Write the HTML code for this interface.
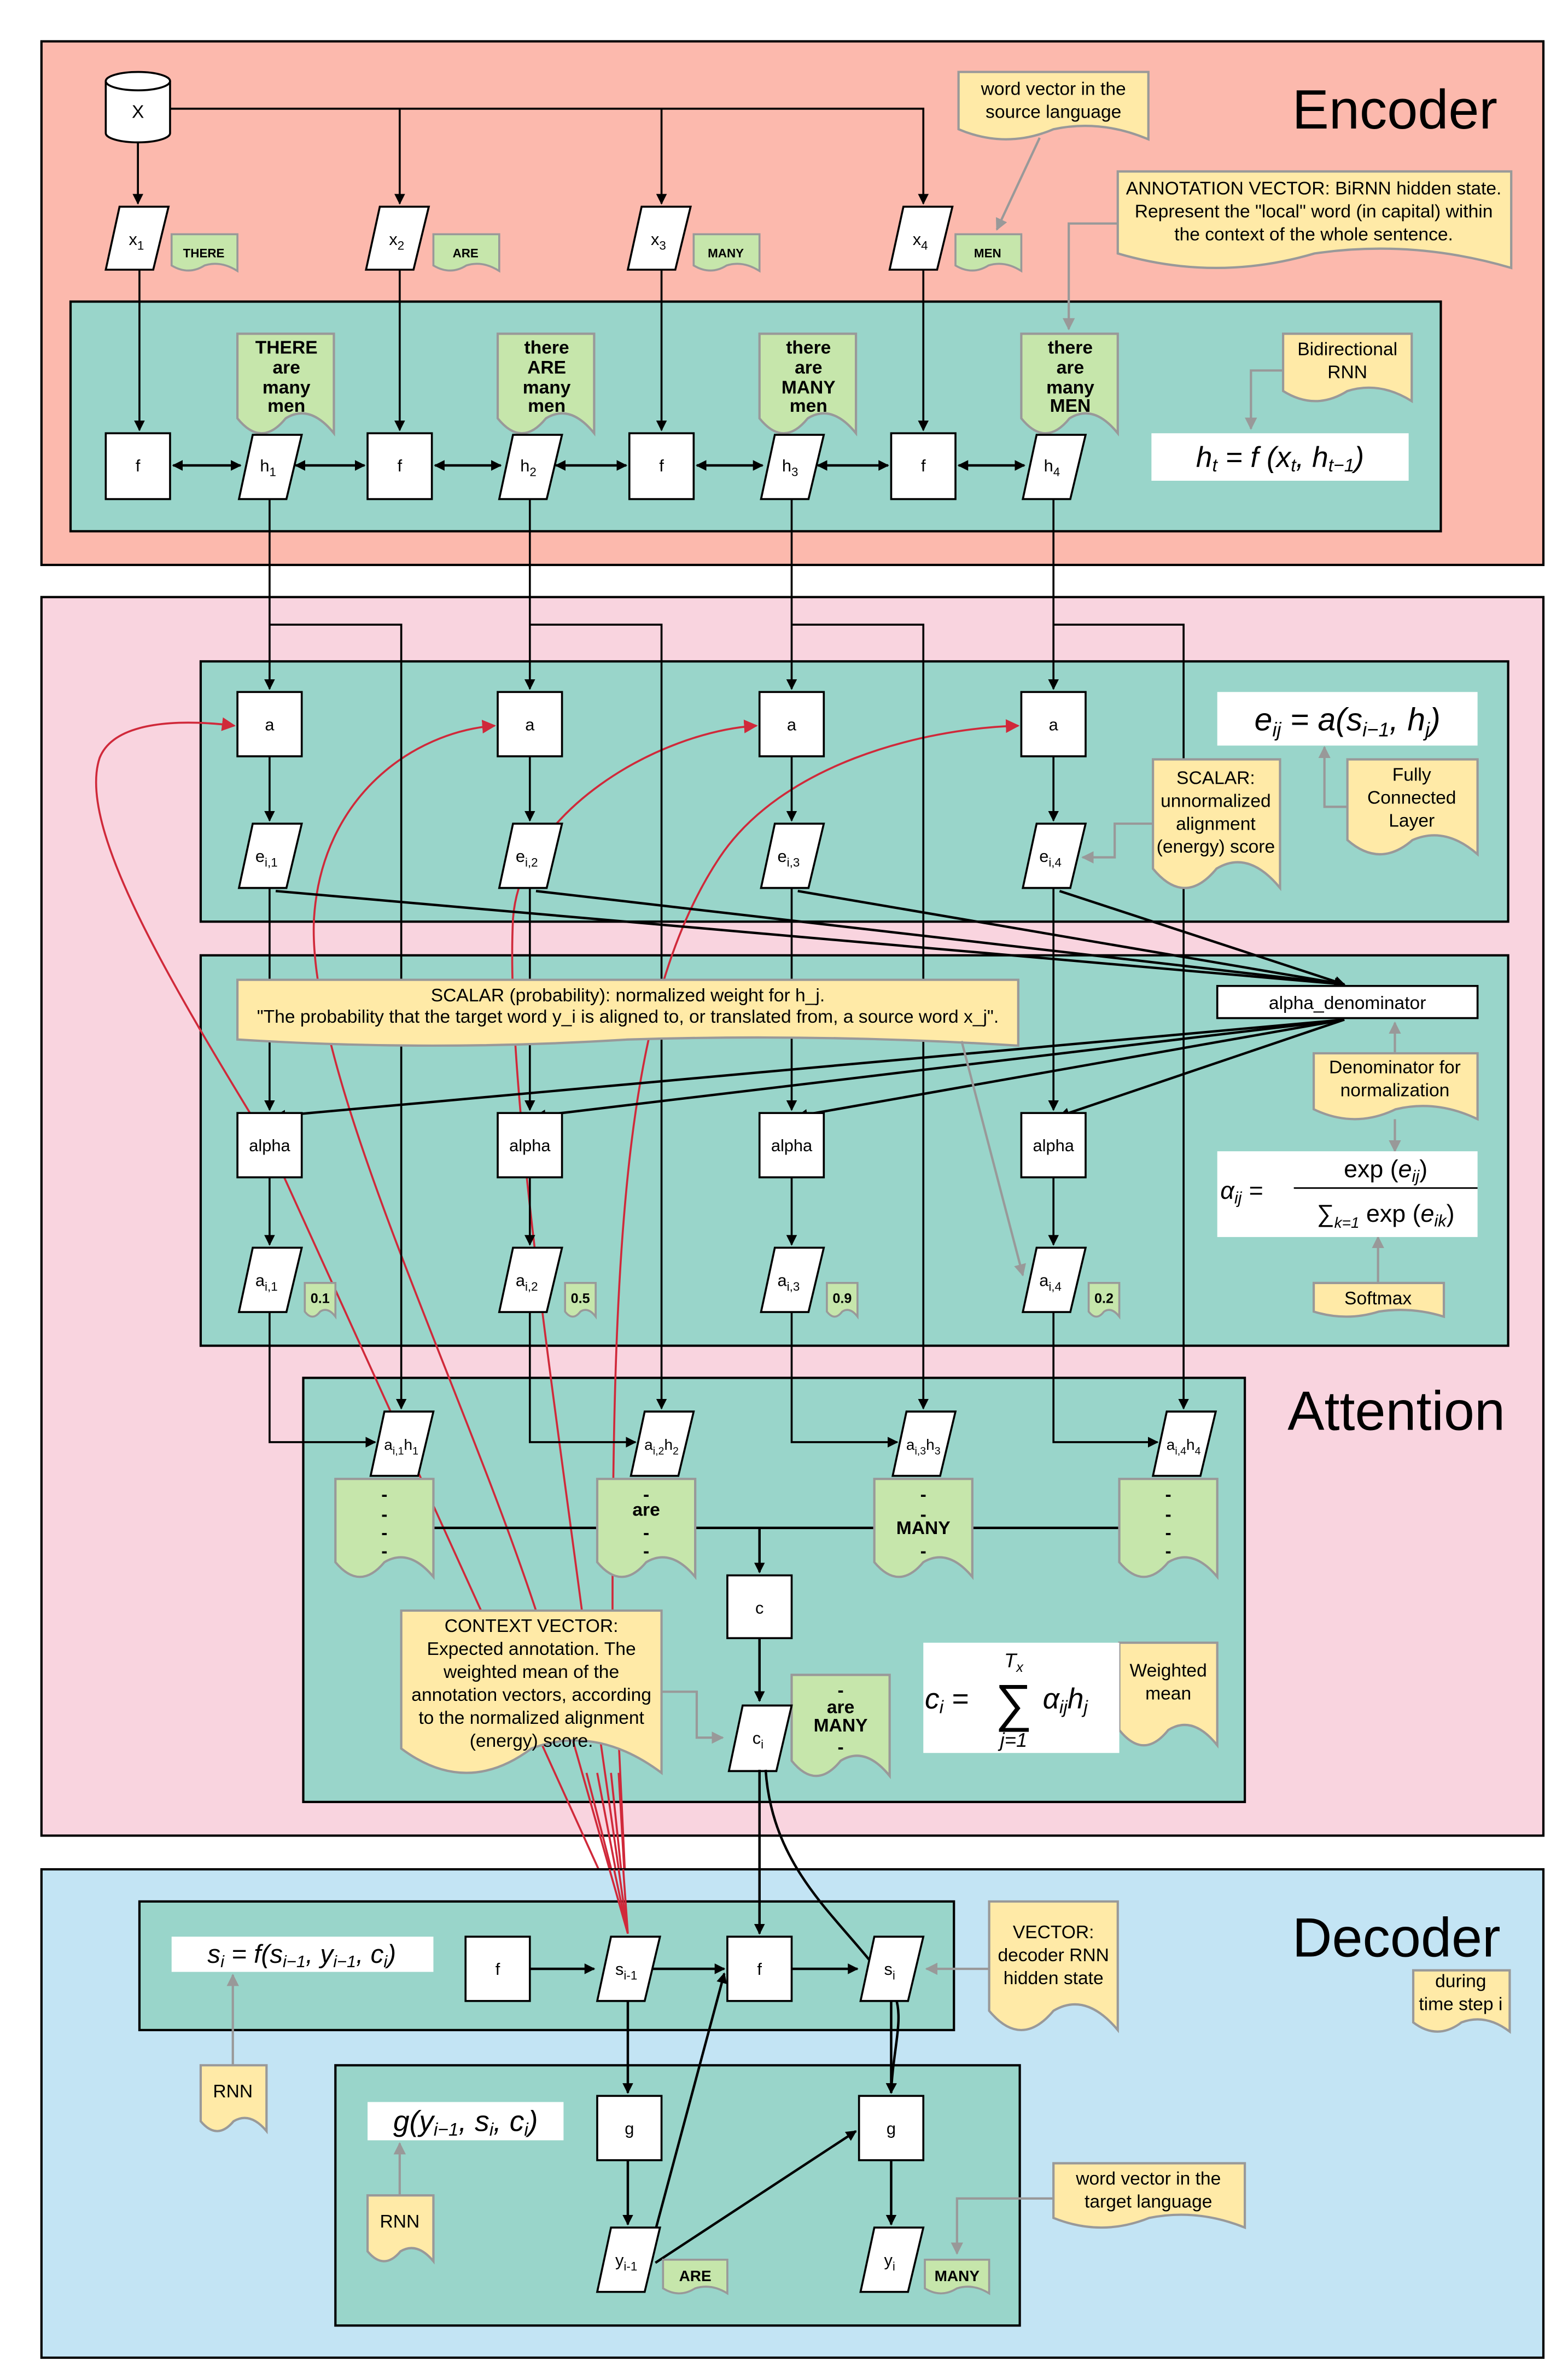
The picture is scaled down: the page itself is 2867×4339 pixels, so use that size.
<!DOCTYPE html>
<html><head><meta charset="utf-8"><style>html,body{margin:0;padding:0;background:#fff}svg{display:block}text{font-family:"Liberation Sans",sans-serif}</style></head><body>
<svg width="2867" height="4339" viewBox="0 0 1024 1550" xmlns="http://www.w3.org/2000/svg">
<defs>
<marker id="ab" viewBox="0 0 10 10" refX="9" refY="5" markerWidth="7" markerHeight="7" orient="auto-start-reverse" markerUnits="userSpaceOnUse"><path d="M0 0L10 5L0 10Z" fill="#000"/></marker>
<marker id="ag" viewBox="0 0 10 10" refX="9" refY="5" markerWidth="8" markerHeight="8" orient="auto" markerUnits="userSpaceOnUse"><path d="M0 0L10 5L0 10Z" fill="#999"/></marker>
<marker id="ar" viewBox="0 0 10 10" refX="9" refY="5" markerWidth="9" markerHeight="9" orient="auto" markerUnits="userSpaceOnUse"><path d="M0 0L10 5L0 10Z" fill="#d0293a"/></marker>
<path id="par" d="M-13 0H19L9 42H-22Z" fill="#fff" stroke="#000" stroke-width="1.3"/>
</defs>
<g stroke-width="1.3">
<!-- ENCODER -->
<rect x="27" y="27" width="981" height="342" fill="#fcb9ad" stroke="#000" stroke-width="1.5"/>
<text x="978" y="84" font-size="36" text-anchor="end">Encoder</text>
<rect x="46" y="197" width="895" height="150" fill="#99d5ca" stroke="#000" stroke-width="1.5"/>
<path d="M69 53V87A21 6 0 0 0 111 87V53" fill="#fff" stroke="#000"/>
<ellipse cx="90" cy="53" rx="21" ry="6" fill="#fff" stroke="#000"/>
<text x="90" y="77" font-size="12" text-anchor="middle">X</text>
<g fill="none" stroke="#000">
<path d="M111 71H603V133" marker-end="url(#ab)"/>
<path d="M261 71V133" marker-end="url(#ab)"/>
<path d="M432 71V133" marker-end="url(#ab)"/>
<path d="M90 93V133" marker-end="url(#ab)"/>
<path d="M91 176V281" marker-end="url(#ab)"/>
<path d="M261 176V281" marker-end="url(#ab)"/>
<path d="M432 176V281" marker-end="url(#ab)"/>
<path d="M603 176V281" marker-end="url(#ab)"/>
</g>
<use href="#par" transform="translate(91,135) scale(1,0.98)"/>
<use href="#par" transform="translate(261,135) scale(1,0.98)"/>
<use href="#par" transform="translate(432,135) scale(1,0.98)"/>
<use href="#par" transform="translate(603,135) scale(1,0.98)"/>
<g font-size="11" text-anchor="middle">
<text x="89" y="160">x<tspan font-size="8" dy="3">1</tspan></text>
<text x="259" y="160">x<tspan font-size="8" dy="3">2</tspan></text>
<text x="430" y="160">x<tspan font-size="8" dy="3">3</tspan></text>
<text x="601" y="160">x<tspan font-size="8" dy="3">4</tspan></text>
</g>
<g fill="#c6e6ab" stroke="#999">
<path d="M0 0H43V24Q32 17 21.5 20.4Q11 27 0 20.4Z" transform="translate(112,153)"/>
<path d="M0 0H43V24Q32 17 21.5 20.4Q11 27 0 20.4Z" transform="translate(283,153)"/>
<path d="M0 0H43V24Q32 17 21.5 20.4Q11 27 0 20.4Z" transform="translate(453,153)"/>
<path d="M0 0H43V24Q32 17 21.5 20.4Q11 27 0 20.4Z" transform="translate(624,153)"/>
</g>
<g font-size="8" font-weight="bold" text-anchor="middle">
<text x="133" y="168">THERE</text><text x="304" y="168">ARE</text><text x="474" y="168">MANY</text><text x="645" y="168">MEN</text>
</g>
<g fill="#ffeaa7" stroke="#999" stroke-width="1.5">
<path d="M0 0H124V44Q93 30.8 62 37.4Q31 50.6 0 37.4Z" transform="translate(626,47)"/>
<path d="M0 0H257V63Q192.75 44.1 128.5 53.55Q64.25 72.45 0 53.55Z" transform="translate(730,112)"/>
<path d="M0 0H84V44Q63 30.8 42 37.4Q21 50.6 0 37.4Z" transform="translate(838,218)"/>
</g>
<g font-size="12" text-anchor="middle">
<text x="688" y="62">word vector in the</text><text x="688" y="77">source language</text>
<text x="858" y="127">ANNOTATION VECTOR: BiRNN hidden state.</text>
<text x="858" y="142">Represent the "local" word (in capital) within</text>
<text x="858" y="157">the context of the whole sentence.</text>
<text x="880" y="232">Bidirectional</text><text x="880" y="247">RNN</text>
</g>
<g fill="none" stroke="#999" stroke-width="1.5">
<path d="M679 90L651 150" marker-end="url(#ag)"/>
<path d="M730 146H698V215" marker-end="url(#ag)"/>
<path d="M838 242H817V280" marker-end="url(#ag)"/>
</g>
<g fill="#c6e6ab" stroke="#999" stroke-width="1.5">
<path d="M0 0H63V65Q47.25 45.5 31.5 55.25Q15.75 74.75 0 55.25Z" transform="translate(155,218)"/>
<path d="M0 0H63V65Q47.25 45.5 31.5 55.25Q15.75 74.75 0 55.25Z" transform="translate(325,218)"/>
<path d="M0 0H63V65Q47.25 45.5 31.5 55.25Q15.75 74.75 0 55.25Z" transform="translate(496,218)"/>
<path d="M0 0H63V65Q47.25 45.5 31.5 55.25Q15.75 74.75 0 55.25Z" transform="translate(667,218)"/>
</g>
<g font-size="12" text-anchor="middle" font-weight="bold">
<text x="187" y="231">THERE</text><text x="187" y="244">are</text><text x="187" y="257">many</text><text x="187" y="269">men</text>
<text x="357" y="231">there</text><text x="357" y="244">ARE</text><text x="357" y="257">many</text><text x="357" y="269">men</text>
<text x="528" y="231">there</text><text x="528" y="244">are</text><text x="528" y="257">MANY</text><text x="528" y="269">men</text>
<text x="699" y="231">there</text><text x="699" y="244">are</text><text x="699" y="257">many</text><text x="699" y="269">MEN</text>
</g>
<g fill="#fff" stroke="#000">
<rect x="69" y="283" width="42" height="43"/><rect x="240" y="283" width="42" height="43"/><rect x="411" y="283" width="42" height="43"/><rect x="582" y="283" width="42" height="43"/>
</g>
<use href="#par" transform="translate(178,284)"/><use href="#par" transform="translate(348,284)"/><use href="#par" transform="translate(519,284)"/><use href="#par" transform="translate(690,284)"/>
<g font-size="11" text-anchor="middle">
<text x="90" y="308">f</text><text x="261" y="308">f</text><text x="432" y="308">f</text><text x="603" y="308">f</text>
<text x="175" y="308">h<tspan font-size="8" dy="3">1</tspan></text><text x="345" y="308">h<tspan font-size="8" dy="3">2</tspan></text><text x="516" y="308">h<tspan font-size="8" dy="3">3</tspan></text><text x="687" y="308">h<tspan font-size="8" dy="3">4</tspan></text>
</g>
<g fill="none" stroke="#000" stroke-width="1.6" marker-start="url(#ab)" marker-end="url(#ab)">
<path d="M113 304H157"/><path d="M193 304H238"/><path d="M284 304H327"/><path d="M363 304H409"/><path d="M455 304H498"/><path d="M534 304H580"/><path d="M626 304H669"/>
</g>
<rect x="752" y="283" width="168" height="31" fill="#fff"/>
<text x="836" y="305" font-size="19" font-family="Liberation Serif" font-style="italic" text-anchor="middle">h<tspan font-size="12" dy="3">t</tspan><tspan dy="-3"> = f (x</tspan><tspan font-size="12" dy="3">t</tspan><tspan dy="-3">, h</tspan><tspan font-size="12" dy="3">t−1</tspan><tspan dy="-3">)</tspan></text>

<!-- ATTENTION -->
<rect x="27" y="390" width="981" height="809" fill="#f9d4df" stroke="#000" stroke-width="1.5"/>
<text x="983" y="934" font-size="36" text-anchor="end">Attention</text>
<rect x="131" y="432" width="854" height="170" fill="#99d5ca" stroke="#000" stroke-width="1.5"/>
<rect x="131" y="624" width="854" height="255" fill="#99d5ca" stroke="#000" stroke-width="1.5"/>
<rect x="198" y="900" width="615" height="277" fill="#99d5ca" stroke="#000" stroke-width="1.5"/>
<!-- red attention curves (under boxes) -->
<g fill="none" stroke="#d0293a" stroke-width="1.3">
<path d="M410 1263L176 748C110 640 50 540 65 495C75 470 120 470 153 474" marker-end="url(#ar)"/>
<path d="M410 1263L350 1052C300 900 200 700 205 600C210 520 270 478 323 474" marker-end="url(#ar)"/>
<path d="M410 1263L380 1052C360 900 330 700 335 600C340 530 430 478 494 474" marker-end="url(#ar)"/>
<path d="M410 1263L400 1052C400 800 410 650 470 560C510 500 600 476 665 474" marker-end="url(#ar)"/>
</g>
<g fill="none" stroke="#000">
<path d="M176 326V450" marker-end="url(#ab)"/><path d="M346 326V450" marker-end="url(#ab)"/><path d="M517 326V450" marker-end="url(#ab)"/><path d="M688 326V450" marker-end="url(#ab)"/>
<path d="M176 408H262V920" marker-end="url(#ab)"/><path d="M346 408H432V920" marker-end="url(#ab)"/><path d="M517 408H603V920" marker-end="url(#ab)"/><path d="M688 408H773V920" marker-end="url(#ab)"/>
<path d="M176 494V536" marker-end="url(#ab)"/><path d="M346 494V536" marker-end="url(#ab)"/><path d="M517 494V536" marker-end="url(#ab)"/><path d="M688 494V536" marker-end="url(#ab)"/>
<path d="M176 580V725" marker-end="url(#ab)"/><path d="M346 580V725" marker-end="url(#ab)"/><path d="M517 580V725" marker-end="url(#ab)"/><path d="M688 580V725" marker-end="url(#ab)"/>
<path d="M176 769V813" marker-end="url(#ab)"/><path d="M346 769V813" marker-end="url(#ab)"/><path d="M517 769V813" marker-end="url(#ab)"/><path d="M688 769V813" marker-end="url(#ab)"/>
<path d="M176 857V942H245" marker-end="url(#ab)"/><path d="M346 857V942H415" marker-end="url(#ab)"/><path d="M517 857V942H586" marker-end="url(#ab)"/><path d="M688 857V942H756" marker-end="url(#ab)"/>
</g>
<g fill="none" stroke="#000" stroke-width="1.6">
<path d="M180 582L878 643" marker-end="url(#ab)"/><path d="M350 582L878 643" marker-end="url(#ab)"/><path d="M521 582L878 643" marker-end="url(#ab)"/><path d="M692 582L878 643" marker-end="url(#ab)"/>
<path d="M878 666L180 729" marker-end="url(#ab)"/><path d="M878 666L350 729" marker-end="url(#ab)"/><path d="M878 666L521 729" marker-end="url(#ab)"/><path d="M878 666L692 729" marker-end="url(#ab)"/>
</g>
<g fill="#fff" stroke="#000">
<rect x="155" y="452" width="42" height="42"/><rect x="325" y="452" width="42" height="42"/><rect x="496" y="452" width="42" height="42"/><rect x="667" y="452" width="42" height="42"/>
<rect x="155" y="727" width="42" height="42"/><rect x="325" y="727" width="42" height="42"/><rect x="496" y="727" width="42" height="42"/><rect x="667" y="727" width="42" height="42"/>
<rect x="795" y="644" width="170" height="21"/>
</g>
<use href="#par" transform="translate(178,538)"/><use href="#par" transform="translate(348,538)"/><use href="#par" transform="translate(519,538)"/><use href="#par" transform="translate(690,538)"/>
<use href="#par" transform="translate(178,815)"/><use href="#par" transform="translate(348,815)"/><use href="#par" transform="translate(519,815)"/><use href="#par" transform="translate(690,815)"/>
<g font-size="11" text-anchor="middle">
<text x="176" y="477">a</text><text x="346" y="477">a</text><text x="517" y="477">a</text><text x="688" y="477">a</text>
<text x="176" y="752">alpha</text><text x="346" y="752">alpha</text><text x="517" y="752">alpha</text><text x="688" y="752">alpha</text>
<text x="880" y="659" font-size="12">alpha_denominator</text>
<text x="174" y="563">e<tspan font-size="8" dy="3">i,1</tspan></text><text x="344" y="563">e<tspan font-size="8" dy="3">i,2</tspan></text><text x="515" y="563">e<tspan font-size="8" dy="3">i,3</tspan></text><text x="686" y="563">e<tspan font-size="8" dy="3">i,4</tspan></text>
<text x="174" y="840">a<tspan font-size="8" dy="3">i,1</tspan></text><text x="344" y="840">a<tspan font-size="8" dy="3">i,2</tspan></text><text x="515" y="840">a<tspan font-size="8" dy="3">i,3</tspan></text><text x="686" y="840">a<tspan font-size="8" dy="3">i,4</tspan></text>
</g>
<g fill="#c6e6ab" stroke="#999">
<path d="M0 0H20V22Q15 15.4 10 18.7Q5 25.3 0 18.7Z" transform="translate(199,838)"/>
<path d="M0 0H20V22Q15 15.4 10 18.7Q5 25.3 0 18.7Z" transform="translate(369,838)"/>
<path d="M0 0H20V22Q15 15.4 10 18.7Q5 25.3 0 18.7Z" transform="translate(540,838)"/>
<path d="M0 0H20V22Q15 15.4 10 18.7Q5 25.3 0 18.7Z" transform="translate(711,838)"/>
</g>
<g font-size="9" font-weight="bold" text-anchor="middle">
<text x="209" y="851">0.1</text><text x="379" y="851">0.5</text><text x="550" y="851">0.9</text><text x="721" y="851">0.2</text>
</g>
<g fill="#ffeaa7" stroke="#999" stroke-width="1.5">
<path d="M0 0H83V84Q62.25 58.8 41.5 71.4Q20.75 96.6 0 71.4Z" transform="translate(753,496)"/>
<path d="M0 0H85V62Q63.75 43.4 42.5 52.7Q21.25 71.3 0 52.7Z" transform="translate(880,496)"/>
<path d="M0 0H510V43Q382.5 35 255 39Q127.5 47 0 39Z" transform="translate(155,640)"/>
<path d="M0 0H107V43Q80.25 30.1 53.5 36.55Q26.75 49.45 0 36.55Z" transform="translate(858,688)"/>
<path d="M0 0H85V22Q63.75 15.4 42.5 18.7Q21.25 25.3 0 18.7Z" transform="translate(858,838)"/>
</g>
<g font-size="12" text-anchor="middle">
<text x="794" y="512">SCALAR:</text><text x="794" y="527">unnormalized</text><text x="794" y="542">alignment</text><text x="794" y="557">(energy) score</text>
<text x="922" y="510">Fully</text><text x="922" y="525">Connected</text><text x="922" y="540">Layer</text>
<text x="410" y="654">SCALAR (probability): normalized weight for h_j.</text>
<text x="410" y="668">"The probability that the target word y_i is aligned to, or translated from, a source word x_j".</text>
<text x="911" y="701">Denominator for</text><text x="911" y="716">normalization</text>
<text x="900" y="852">Softmax</text>
</g>
<g fill="none" stroke="#999" stroke-width="1.5">
<path d="M753 538H728V560H707" marker-end="url(#ag)"/>
<path d="M880 527H865V488" marker-end="url(#ag)"/>
<path d="M911 688V668" marker-end="url(#ag)"/>
<path d="M911 731V752" marker-end="url(#ag)"/>
<path d="M900 838V808" marker-end="url(#ag)"/>
<path d="M628 680L668 833" marker-end="url(#ag)"/>
</g>
<rect x="795" y="452" width="170" height="35" fill="#fff"/>
<text x="880" y="477" font-size="21" font-family="Liberation Serif" font-style="italic" text-anchor="middle">e<tspan font-size="13" dy="4">ij</tspan><tspan dy="-4"> = a(s</tspan><tspan font-size="13" dy="4">i−1</tspan><tspan dy="-4">, h</tspan><tspan font-size="13" dy="4">j</tspan><tspan dy="-4">)</tspan></text>
<rect x="795" y="752" width="170" height="56" fill="#fff"/>
<g font-family="Liberation Serif" font-size="16">
<text x="797" y="783" font-style="italic">α<tspan font-size="11" dy="3">ij</tspan><tspan dy="-3"> =</tspan></text>
<text x="905" y="769" text-anchor="middle">exp (<tspan font-style="italic">e</tspan><tspan font-size="11" dy="3" font-style="italic">ij</tspan><tspan dy="-3">)</tspan></text>
<line x1="845" y1="776" x2="965" y2="776" stroke="#000" stroke-width="1"/>
<text x="905" y="798" text-anchor="middle">∑<tspan font-size="10" dy="4" font-style="italic">k=1</tspan><tspan dy="-4"> exp (</tspan><tspan font-style="italic">e</tspan><tspan font-size="11" dy="3" font-style="italic">ik</tspan><tspan dy="-3">)</tspan></text>
</g>
<use href="#par" transform="translate(264,922)"/><use href="#par" transform="translate(434,922)"/><use href="#par" transform="translate(605,922)"/><use href="#par" transform="translate(775,922)"/>
<g font-size="10" text-anchor="middle">
<text x="262" y="947">a<tspan font-size="7" dy="3">i,1</tspan><tspan dy="-3">h</tspan><tspan font-size="7" dy="3">1</tspan></text>
<text x="432" y="947">a<tspan font-size="7" dy="3">i,2</tspan><tspan dy="-3">h</tspan><tspan font-size="7" dy="3">2</tspan></text>
<text x="603" y="947">a<tspan font-size="7" dy="3">i,3</tspan><tspan dy="-3">h</tspan><tspan font-size="7" dy="3">3</tspan></text>
<text x="773" y="947">a<tspan font-size="7" dy="3">i,4</tspan><tspan dy="-3">h</tspan><tspan font-size="7" dy="3">4</tspan></text>
</g>
<g fill="none" stroke="#000" stroke-width="1.6">
<path d="M283 998H795"/><path d="M496 998V1027" marker-end="url(#ab)"/>
<path d="M496 1070V1111" marker-end="url(#ab)"/>
</g>
<g fill="#c6e6ab" stroke="#999" stroke-width="1.5">
<path d="M0 0H64V64Q48 44.8 32 54.4Q16 73.6 0 54.4Z" transform="translate(219,966)"/>
<path d="M0 0H64V64Q48 44.8 32 54.4Q16 73.6 0 54.4Z" transform="translate(390,966)"/>
<path d="M0 0H64V64Q48 44.8 32 54.4Q16 73.6 0 54.4Z" transform="translate(571,966)"/>
<path d="M0 0H64V64Q48 44.8 32 54.4Q16 73.6 0 54.4Z" transform="translate(731,966)"/>
<path d="M0 0H64V66Q48 46.2 32 56.1Q16 75.9 0 56.1Z" transform="translate(517,1094)"/>
</g>
<g font-size="12" text-anchor="middle" font-weight="bold">
<text x="251" y="980">-</text><text x="251" y="993">-</text><text x="251" y="1005">-</text><text x="251" y="1017">-</text>
<text x="422" y="980">-</text><text x="422" y="990">are</text><text x="422" y="1005">-</text><text x="422" y="1017">-</text>
<text x="603" y="980">-</text><text x="603" y="993">-</text><text x="603" y="1002">MANY</text><text x="603" y="1017">-</text>
<text x="763" y="980">-</text><text x="763" y="993">-</text><text x="763" y="1005">-</text><text x="763" y="1017">-</text>
<text x="549" y="1108">-</text><text x="549" y="1119">are</text><text x="549" y="1131">MANY</text><text x="549" y="1145">-</text>
</g>
<rect x="475" y="1029" width="42" height="41" fill="#fff" stroke="#000"/>
<text x="496" y="1054" font-size="11" text-anchor="middle">c</text>
<use href="#par" transform="translate(498,1114) scale(1,1.02)"/>
<text x="495" y="1139" font-size="11" text-anchor="middle">c<tspan font-size="8" dy="3">i</tspan></text>
<g fill="#ffeaa7" stroke="#999" stroke-width="1.5">
<path d="M0 0H170V106Q127.5 74.2 85 90.1Q42.5 121.9 0 90.1Z" transform="translate(262,1052)"/>
<path d="M0 0H64V67Q48 47 32 57Q16 77 0 57Z" transform="translate(731,1073)"/>
</g>
<g font-size="12" text-anchor="middle">
<text x="347" y="1066">CONTEXT VECTOR:</text><text x="347" y="1081">Expected annotation. The</text><text x="347" y="1096">weighted mean of the</text><text x="347" y="1111">annotation vectors, according</text><text x="347" y="1126">to the normalized alignment</text><text x="347" y="1141">(energy) score.</text>
<text x="763" y="1095">Weighted</text><text x="763" y="1110">mean</text>
</g>
<path d="M432 1105H455V1135H472" fill="none" stroke="#999" stroke-width="1.5" marker-end="url(#ag)"/>
<rect x="603" y="1073" width="128" height="72" fill="#fff"/>
<g font-family="Liberation Serif" font-style="italic">
<text x="604" y="1116" font-size="19">c<tspan font-size="12" dy="3">i</tspan><tspan dy="-3"> =</tspan></text>
<text x="662" y="1124" font-size="34" font-style="normal" text-anchor="middle">∑</text>
<text x="662" y="1089" font-size="13" text-anchor="middle">T<tspan font-size="9" dy="3">x</tspan></text>
<text x="662" y="1141" font-size="13" text-anchor="middle">j=1</text>
<text x="681" y="1116" font-size="19">α<tspan font-size="12" dy="3">ij</tspan><tspan dy="-3">h</tspan><tspan font-size="12" dy="3">j</tspan></text>
</g>
<!-- red segments below note into gap -->
<g fill="none" stroke="#d0293a" stroke-width="1.3">
<path d="M383 1158L410 1263"/><path d="M390 1158L410 1263"/><path d="M399 1158L410 1263"/><path d="M404 1158L410 1263"/>
</g>

<!-- DECODER -->
<rect x="27" y="1221" width="981" height="319" fill="#c3e4f4" stroke="#000" stroke-width="1.5"/>
<text x="980" y="1278" font-size="36" text-anchor="end">Decoder</text>
<rect x="91" y="1242" width="532" height="84" fill="#99d5ca" stroke="#000" stroke-width="1.5"/>
<rect x="219" y="1349" width="447" height="170" fill="#99d5ca" stroke="#000" stroke-width="1.5"/>
<g fill="none" stroke="#d0293a" stroke-width="1.3">
<path d="M398 1221L410 1263"/><path d="M401 1221L410 1263"/><path d="M404 1221L410 1263"/><path d="M407 1221L410 1263"/>
</g>
<g fill="#ffeaa7" stroke="#999" stroke-width="1.5">
<path d="M0 0H63V40Q47.25 28 31.5 34Q15.75 46 0 34Z" transform="translate(923,1287)"/>
<path d="M0 0H84V84Q63 58.8 42 71.4Q21 96.6 0 71.4Z" transform="translate(646,1242)"/>
<path d="M0 0H43V43Q32.25 30.1 21.5 36.55Q10.75 49.45 0 36.55Z" transform="translate(131,1349)"/>
<path d="M0 0H43V43Q32.25 30.1 21.5 36.55Q10.75 49.45 0 36.55Z" transform="translate(240,1434)"/>
<path d="M0 0H125V42Q93.75 29.4 62.5 35.7Q31.25 48.3 0 35.7Z" transform="translate(688,1413)"/>
</g>
<g font-size="12" text-anchor="middle">
<text x="954" y="1298">during</text><text x="954" y="1313">time step i</text>
<text x="688" y="1266">VECTOR:</text><text x="688" y="1281">decoder RNN</text><text x="688" y="1296">hidden state</text>
<text x="152" y="1370">RNN</text><text x="261" y="1455">RNN</text>
<text x="750" y="1427">word vector in the</text><text x="750" y="1442">target language</text>
</g>
<g fill="none" stroke="#999" stroke-width="1.5">
<path d="M152 1349V1290" marker-end="url(#ag)"/>
<path d="M261 1434V1400" marker-end="url(#ag)"/>
<path d="M646 1286H605" marker-end="url(#ag)"/>
<path d="M688 1436H625V1472" marker-end="url(#ag)"/>
</g>
<rect x="112" y="1265" width="171" height="23" fill="#fff"/>
<text x="197" y="1282" font-size="17" font-family="Liberation Serif" font-style="italic" text-anchor="middle">s<tspan font-size="11" dy="3">i</tspan><tspan dy="-3"> = f(s</tspan><tspan font-size="11" dy="3">i−1</tspan><tspan dy="-3">, y</tspan><tspan font-size="11" dy="3">i−1</tspan><tspan dy="-3">, c</tspan><tspan font-size="11" dy="3">i</tspan><tspan dy="-3">)</tspan></text>
<rect x="240" y="1373" width="128" height="25" fill="#fff"/>
<text x="304" y="1392" font-size="19" font-family="Liberation Serif" font-style="italic" text-anchor="middle">g(y<tspan font-size="12" dy="3">i−1</tspan><tspan dy="-3">, s</tspan><tspan font-size="12" dy="3">i</tspan><tspan dy="-3">, c</tspan><tspan font-size="12" dy="3">i</tspan><tspan dy="-3">)</tspan></text>
<g fill="none" stroke="#000" stroke-width="1.6">
<path d="M346 1286H388" marker-end="url(#ab)"/>
<path d="M424 1286H473" marker-end="url(#ab)"/>
<path d="M517 1286H560" marker-end="url(#ab)"/>
<path d="M496 1156V1263" marker-end="url(#ab)"/>
<path d="M500 1156C505 1230 560 1260 585 1305C590 1320 583 1340 582 1367" marker-end="url(#ab)"/>
<path d="M582 1307V1367" marker-end="url(#ab)"/>
<path d="M410 1307V1367" marker-end="url(#ab)"/>
<path d="M410 1411V1453" marker-end="url(#ab)"/>
<path d="M582 1411V1453" marker-end="url(#ab)"/>
<path d="M425 1468L473 1289" marker-end="url(#ab)"/>
<path d="M428 1478L559 1392" marker-end="url(#ab)"/>
</g>
<g fill="#fff" stroke="#000">
<rect x="304" y="1265" width="42" height="42"/><rect x="475" y="1265" width="42" height="42"/>
<rect x="390" y="1369" width="42" height="42"/><rect x="561" y="1369" width="42" height="42"/>
</g>
<use href="#par" transform="translate(412,1265)"/><use href="#par" transform="translate(584,1265)"/>
<use href="#par" transform="translate(412,1455)"/><use href="#par" transform="translate(584,1455)"/>
<g font-size="11" text-anchor="middle">
<text x="325" y="1290">f</text><text x="496" y="1290">f</text><text x="411" y="1394">g</text><text x="582" y="1394">g</text>
<text x="409" y="1290">s<tspan font-size="8" dy="3">i-1</tspan></text><text x="581" y="1290">s<tspan font-size="8" dy="3">i</tspan></text>
<text x="409" y="1480">y<tspan font-size="8" dy="3">i-1</tspan></text><text x="581" y="1480">y<tspan font-size="8" dy="3">i</tspan></text>
</g>
<g fill="#c6e6ab" stroke="#999">
<path d="M0 0H42V22Q31.5 15.4 21 18.7Q10.5 25.3 0 18.7Z" transform="translate(433,1476)"/>
<path d="M0 0H42V22Q31.5 15.4 21 18.7Q10.5 25.3 0 18.7Z" transform="translate(604,1476)"/>
</g>
<g font-size="10" font-weight="bold" text-anchor="middle"><text x="454" y="1490">ARE</text><text x="625" y="1490">MANY</text></g>
</g>
</svg>
</body></html>
